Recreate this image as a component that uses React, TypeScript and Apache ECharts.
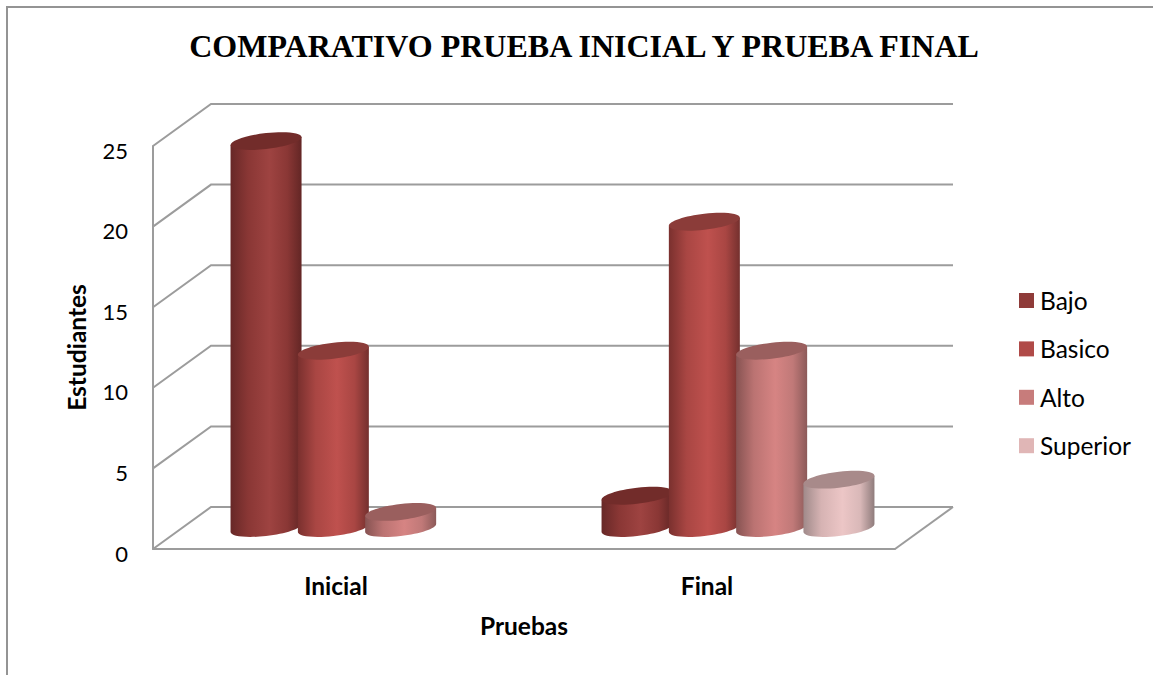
import React, { useEffect, useRef } from "react";
import * as echarts from "echarts";

const categories = ["Inicial", "Final"];
const seriesNames = ["Bajo", "Basico", "Alto", "Superior"];
const bajo = [24, 2];
const basico = [11, 19];
const alto = [1, 11];
const superior = [0, 3];
const yTicks = [0, 5, 10, 15, 20, 25];

const allValues = [bajo, basico, alto, superior];

const DEPTH_X = 58;
const DEPTH_Y = -42;
const PITCH = 67.3;
const HALF_W = 35.5;
const SKEW = 4;
const HALF_H = 8;
const K = 0.5523;
const GRID_COLOR = "#9c9c9c";

const swatch = ["#8f3b39", "#b04a48", "#c77c7b", "#e0b6b6"];
const tops = ["#722c2a", "#8b3c39", "#9a5f5e", "#a88a8a"];
const sides = [
  ["#672827", "#8a3735", "#9e4341", "#8a3735", "#632625"],
  ["#7a302e", "#a94643", "#bf514e", "#a94643", "#74302e"],
  ["#875352", "#bb7372", "#d68483", "#c07978", "#8c5a59"],
  ["#a08a8a", "#d6b3b3", "#ecc6c6", "#d9b8b8", "#8f7c7c"],
];

function bodyPath(cx: number, ty: number, by: number) {
  const a = HALF_W, s = SKEW, b = HALF_H;
  return [
    `M${cx + a} ${ty - s}`,
    `L${cx + a} ${by - s}`,
    `C${cx + a} ${by - s + K * b} ${cx + K * a} ${by + b - K * s} ${cx} ${by + b}`,
    `C${cx - K * a} ${by + b + K * s} ${cx - a} ${by + s + K * b} ${cx - a} ${by + s}`,
    `L${cx - a} ${ty + s}`,
    "Z",
  ].join(" ");
}

function topPath(cx: number, cy: number) {
  const a = HALF_W, s = SKEW, b = HALF_H;
  return [
    `M${cx + a} ${cy - s}`,
    `C${cx + a} ${cy - s + K * b} ${cx + K * a} ${cy + b - K * s} ${cx} ${cy + b}`,
    `C${cx - K * a} ${cy + b + K * s} ${cx - a} ${cy + s + K * b} ${cx - a} ${cy + s}`,
    `C${cx - a} ${cy + s - K * b} ${cx - K * a} ${cy - b + K * s} ${cx} ${cy - b}`,
    `C${cx + K * a} ${cy - b - K * s} ${cx + a} ${cy - s - K * b} ${cx + a} ${cy - s}`,
    "Z",
  ].join(" ");
}

function cylinderSeries(name: string, idx: number) {
  return {
    type: "custom",
    name,
    coordinateSystem: "cartesian2d",
    clip: false,
    z: 5 + idx,
    itemStyle: { color: swatch[idx] },
    encode: { x: 0, y: 1 },
    data: categories.map((_, i) => [i, allValues[idx][i]]),
    renderItem: (_p: any, api: any) => {
      const v = api.value(1);
      if (!v) return { type: "group", children: [] };
      const base = api.coord([api.value(0), 0]);
      const top = api.coord([api.value(0), v]);
      const cx = base[0] + (idx - 1.5) * PITCH + DEPTH_X / 2 - 0.5;
      const by = base[1] + DEPTH_Y / 2;
      const ty = top[1] + DEPTH_Y / 2;
      const stops = sides[idx];
      return {
        type: "group",
        children: [
          {
            type: "path",
            shape: { pathData: bodyPath(cx, ty, by) },
            style: {
              fill: new echarts.graphic.LinearGradient(0, 0, 1, 0, [
                { offset: 0, color: stops[0] },
                { offset: 0.25, color: stops[1] },
                { offset: 0.55, color: stops[2] },
                { offset: 0.8, color: stops[3] },
                { offset: 1, color: stops[4] },
              ]),
            },
          },
          {
            type: "path",
            shape: { pathData: topPath(cx, ty) },
            style: { fill: tops[idx] },
          },
        ],
      };
    },
  };
}

const wallSeries = {
  type: "custom",
  name: "walls",
  coordinateSystem: "cartesian2d",
  clip: false,
  silent: true,
  z: 1,
  data: yTicks.map((t) => [0, t]),
  encode: { y: 1 },
  renderItem: (p: any, api: any) => {
    const v = api.value(1);
    const pt = api.coord([0, v]);
    const left = p.coordSys.x;
    const right = p.coordSys.x + p.coordSys.width;
    const y = pt[1];
    const lineStyle = { stroke: GRID_COLOR, lineWidth: 2, fill: "none" };
    const children: any[] = [
      {
        type: "polyline",
        shape: {
          points: [
            [left, y],
            [left + DEPTH_X, y + DEPTH_Y],
            [right + DEPTH_X, y + DEPTH_Y],
          ],
        },
        style: lineStyle,
      },
    ];
    if (v === 0) {
      children.push({
        type: "line",
        shape: { x1: right, y1: y, x2: right + DEPTH_X, y2: y + DEPTH_Y },
        style: lineStyle,
      });
    }
    return { type: "group", children };
  },
};

export default function App() {
  const ref = useRef<HTMLDivElement>(null);
  useEffect(() => {
    const chart = echarts.init(ref.current!, undefined, { renderer: "svg" });
    chart.setOption({
      animation: false,
      backgroundColor: "#ffffff",
      title: {
        text: "COMPARATIVO PRUEBA INICIAL Y PRUEBA FINAL",
        left: 579,
        top: 25,
        textAlign: "center",
        textStyle: {
          fontFamily: "Liberation Serif",
          fontWeight: "bold",
          fontSize: 32,
          color: "#000",
        },
      },
      grid: { left: 153, top: 146, width: 742, height: 403 },
      xAxis: {
        type: "category",
        data: categories,
        boundaryGap: true,
        axisLine: { show: true, lineStyle: { color: GRID_COLOR, width: 2 } },
        axisTick: { show: false },
        axisLabel: {
          margin: 24,
          fontFamily: "Lato",
          fontWeight: "bold",
          fontSize: 24.5,
          color: "#000",
          padding: [0, 5, 0, 0],
        },
        name: "Pruebas",
        nameLocation: "middle",
        nameGap: 64,
        nameTextStyle: { fontFamily: "Lato", fontWeight: "bold", fontSize: 24.5, color: "#000" },
      },
      yAxis: {
        type: "value",
        min: 0,
        max: 25,
        interval: 5,
        splitLine: { show: false },
        axisLine: { show: true, lineStyle: { color: GRID_COLOR, width: 2 } },
        axisTick: { show: false },
        axisLabel: {
          margin: 25,
          fontFamily: "Lato",
          fontSize: 22,
          color: "#000",
          verticalAlign: "top",
          lineHeight: 8,
        },
        name: "Estudiantes",
        nameLocation: "middle",
        nameGap: 64,
        nameTextStyle: { fontFamily: "Lato", fontWeight: "bold", fontSize: 24.5, color: "#000" },
      },
      legend: {
        data: seriesNames,
        orient: "vertical",
        left: 1019,
        top: 288,
        padding: 0,
        itemWidth: 15,
        itemHeight: 15,
        itemGap: 23.4,
        icon: "rect",
        selectedMode: false,
        textStyle: { fontFamily: "Lato", fontSize: 24.5, color: "#000", padding: [0, 0, 0, 1] },
      },
      graphic: [
        {
          type: "polyline",
          silent: true,
          shape: { points: [[7, 675], [7, 7], [1153, 7]] },
          style: { stroke: "#949494", lineWidth: 2, fill: "none" },
        },
      ],
      series: [wallSeries, ...seriesNames.map((n, i) => cylinderSeries(n, i))],
    });
    return () => chart.dispose();
  }, []);
  return (
    <div
      ref={ref}
      style={{ position: "fixed", left: 0, top: 0, width: 1153, height: 675 }}
    />
  );
}
